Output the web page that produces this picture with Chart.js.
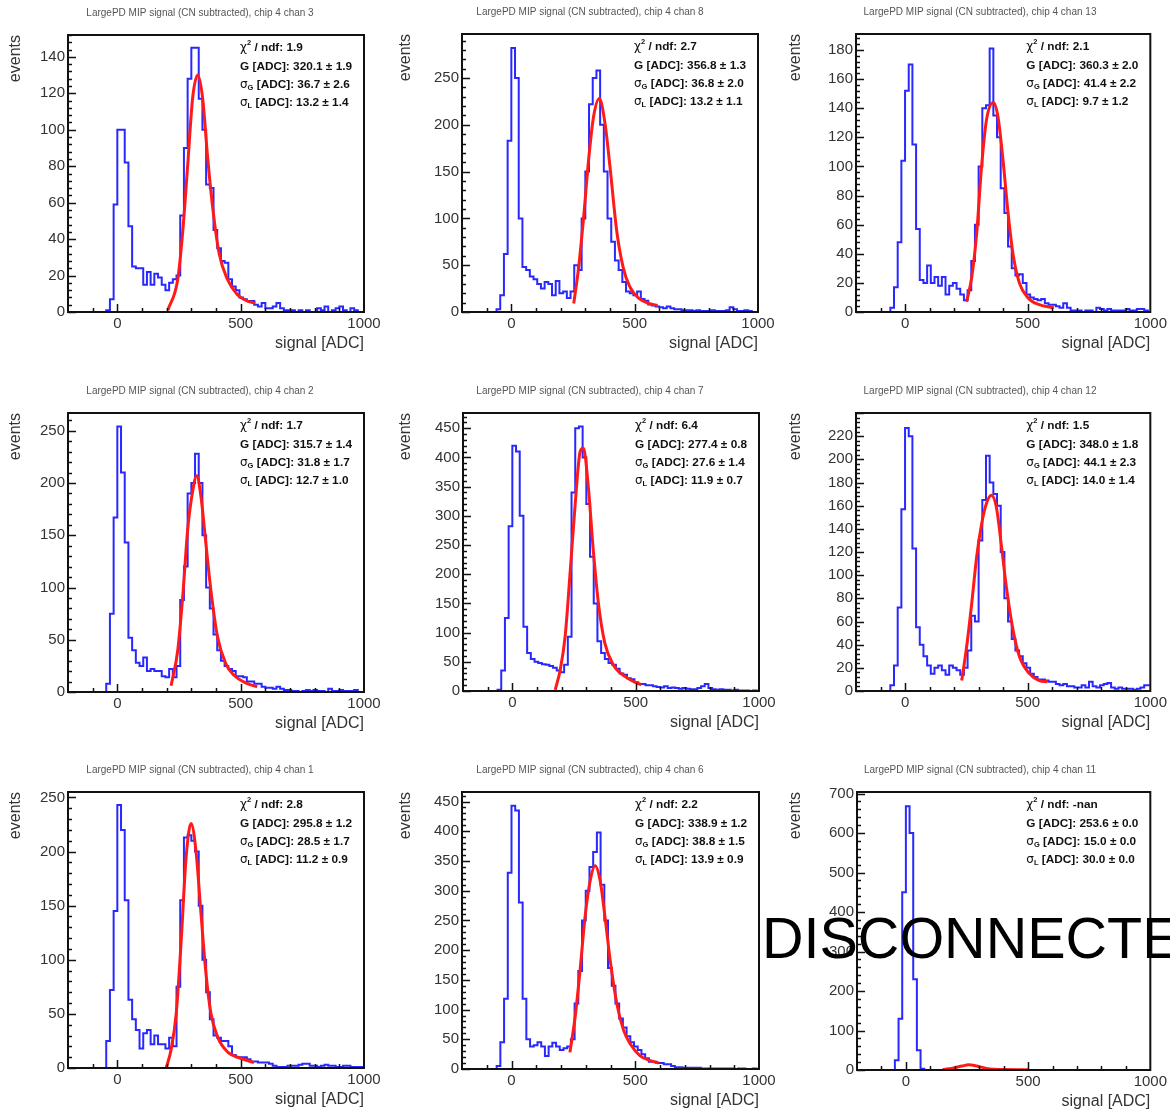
<!DOCTYPE html>
<html>
<head>
<meta charset="utf-8">
<script src="https://cdn.jsdelivr.net/npm/chart.js@4.4.1/dist/chart.umd.min.js"></script>
<style>
  html, body { margin: 0; padding: 0; background: #fff; }
  body { width: 1170px; height: 1109px; position: relative; overflow: hidden; font-family: "Liberation Sans", Arial, sans-serif; }
  .pad { position: absolute; }
  #disc { position: absolute; left: 762px; top: 910px; z-index: 10; font-size: 57.5px; line-height: 57.5px; color: #000; white-space: nowrap; pointer-events: none; }
</style>
</head>
<body>
<div id="disc">DISCONNECTED</div>
<script>
// bin centres, 15 ADC wide
const binCenters = [
  -187.5,-172.5,-157.5,-142.5,-127.5,-112.5,-97.5,-82.5,-67.5,-52.5,
  -37.5,-22.5,-7.5,7.5,22.5,37.5,52.5,67.5,82.5,97.5,
  112.5,127.5,142.5,157.5,172.5,187.5,202.5,217.5,232.5,247.5,
  262.5,277.5,292.5,307.5,322.5,337.5,352.5,367.5,382.5,397.5,
  412.5,427.5,442.5,457.5,472.5,487.5,502.5,517.5,532.5,547.5,
  562.5,577.5,592.5,607.5,622.5,637.5,652.5,667.5,682.5,697.5,
  712.5,727.5,742.5,757.5,772.5,787.5,802.5,817.5,832.5,847.5,
  862.5,877.5,892.5,907.5,922.5,937.5,952.5,967.5,982.5,997.5
];
const xTickLabels = [0, 500, 1000];

// ---- chan 3
const countsCh3 = [
  0,0,0,0,0,0,0,0,0,0,
  1,7,59,100,100,82,47,25,24,24,
  15,22,15,21,19,15,12,16,18,20,
  53,90,128,145,145,117,100,70,68,45,
  35,28,27,18,14,12,8,7,6,6,
  4,3,5,2,2,3,5,2,1,1,
  1,0,1,0,1,0,0,2,1,3,
  0,1,2,3,1,0,2,1,0,0
];
const fitXCh3 = [205,245,265,285,305,326,346,366,386,413,446,487,527,560];
const fitYCh3 = [1,18,44,80,117,130,117,85,58,32,18,9.5,6,5];
const yTicksCh3 = [0,20,40,60,80,100,120,140];
const statsCh3 = ['1.9', '320.1 \u00b1 1.9', '36.7 \u00b1 2.6', '13.2 \u00b1 1.4'];

// ---- chan 8
const countsCh8 = [
  0,0,0,0,0,0,0,0,0,3,
  18,62,183,282,250,100,48,45,38,35,
  30,25,32,30,18,33,20,22,15,22,
  50,45,100,150,222,250,258,200,150,100,
  75,55,45,32,22,20,18,22,14,12,
  8,7,6,5,4,6,4,3,3,2,
  2,2,1,2,1,1,1,2,1,1,
  1,2,5,3,1,1,2,1,0,0
];
const fitXCh8 = [253,273,293,313,333,357,380,400,427,453,480,520,560,593];
const fitYCh8 = [9,48,101,162,208,228,201,155,87,48,27,14,9,7];
const yTicksCh8 = [0,50,100,150,200,250];
const statsCh8 = ['2.7', '356.8 \u00b1 1.3', '36.8 \u00b1 2.0', '13.2 \u00b1 1.1'];

// ---- chan 13
const countsCh13 = [
  0,0,0,0,0,0,0,0,0,3,
  17,48,104,152,170,115,57,22,20,32,
  20,24,18,24,12,18,20,16,12,8,
  15,35,60,100,140,142,181,135,120,85,
  68,45,30,25,26,20,12,10,9,8,
  9,6,5,5,4,3,6,3,1,1,
  1,0,1,1,0,3,2,1,2,1,
  1,1,1,2,1,1,2,2,1,0
];
const fitXCh13 = [251,272,292,312,332,360,379,399,420,440,466,500,547,607];
const fitYCh13 = [7,24,54,100,132,144,134,105,68,40,20,10,5,3];
const yTicksCh13 = [0,20,40,60,80,100,120,140,160,180];
const statsCh13 = ['2.1', '360.3 \u00b1 2.0', '41.4 \u00b1 2.2', '9.7 \u00b1 1.2'];

// ---- chan 2
const countsCh2 = [
  0,0,0,0,0,0,0,0,0,0,
  8,75,167,254,210,143,52,40,28,25,
  33,20,22,20,20,15,14,22,14,25,
  88,120,190,200,228,200,150,100,80,55,
  40,30,25,22,20,15,15,14,10,10,
  8,8,5,4,4,3,5,3,2,2,
  1,1,0,1,2,1,2,1,1,0,
  3,1,1,2,1,1,1,2,0,0
];
const fitXCh2 = [218,245,265,285,306,322,339,359,379,406,440,473,527,567];
const fitYCh2 = [6,40,91,155,193,207,187,142,98,53,27,16,8,5];
const yTicksCh2 = [0,50,100,150,200,250];
const statsCh2 = ['1.7', '315.7 \u00b1 1.4', '31.8 \u00b1 1.7', '12.7 \u00b1 1.0'];

// ---- chan 7
const countsCh7 = [
  0,0,0,0,0,0,0,0,0,2,
  35,125,282,420,410,300,110,65,55,50,
  48,46,45,43,40,35,32,45,93,340,
  450,453,400,320,230,150,85,65,55,48,
  45,38,30,28,22,20,15,12,12,10,
  10,8,7,6,8,5,6,5,4,5,
  4,3,3,5,8,12,5,3,2,3,
  2,2,1,2,1,1,1,0,1,0
];
const fitXCh7 = [174,194,214,235,255,275,288,308,328,349,375,409,456,509,523];
const fitYCh7 = [2,36,93,207,321,410,416,350,242,150,82,45,25,13,11];
const yTicksCh7 = [0,50,100,150,200,250,300,350,400,450];
const statsCh7 = ['6.4', '277.4 \u00b1 0.8', '27.6 \u00b1 1.4', '11.9 \u00b1 0.7'];

// ---- chan 12
const countsCh12 = [
  0,0,0,0,0,0,0,0,0,5,
  22,72,157,227,220,123,55,40,30,22,
  15,20,22,18,14,22,20,18,14,20,
  35,65,60,130,165,203,180,170,160,120,
  80,60,45,35,30,24,20,15,12,10,
  10,9,8,8,6,5,6,4,4,3,
  3,5,3,8,4,3,5,6,7,3,
  2,3,2,2,2,1,2,3,5,5
];
const fitXCh12 = [231,251,272,292,312,332,352,372,392,413,440,466,507,547,581];
const fitYCh12 = [9,38,76,116,144,162,169,159,127,90,53,30,15,9,8];
const yTicksCh12 = [0,20,40,60,80,100,120,140,160,180,200,220];
const statsCh12 = ['1.5', '348.0 \u00b1 1.8', '44.1 \u00b1 2.3', '14.0 \u00b1 1.4'];

// ---- chan 1
const countsCh1 = [
  0,0,0,0,0,0,0,0,0,0,
  25,72,145,243,220,155,63,45,35,18,
  32,35,22,30,22,22,18,28,20,75,
  155,213,215,210,200,150,100,70,45,30,
  28,25,25,20,12,10,10,10,8,6,
  6,5,5,5,4,2,1,1,1,2,
  2,2,3,4,4,2,2,1,2,3,
  2,2,1,1,2,2,1,1,1,1
];
const fitXCh1 = [198,218,239,259,279,299,319,339,359,379,406,446,500,554];
const fitYCh1 = [0,17,51,118,195,226,200,143,88,51,29,15,9,5];
const yTicksCh1 = [0,50,100,150,200,250];
const statsCh1 = ['2.8', '295.8 \u00b1 1.2', '28.5 \u00b1 1.7', '11.2 \u00b1 0.9'];

// ---- chan 6
const countsCh6 = [
  0,0,0,0,0,0,0,0,0,5,
  45,118,330,443,435,280,118,50,38,40,
  45,38,22,38,44,38,32,35,38,50,
  110,165,250,300,340,365,398,310,250,170,
  140,110,85,70,55,45,38,32,25,18,
  12,12,10,10,8,8,5,3,3,2,
  2,2,2,2,1,1,1,1,1,1,
  1,1,1,0,1,1,0,0,1,0
];
const fitXCh6 = [236,257,277,297,318,338,358,378,399,426,453,480,520,561,595];
const fitYCh6 = [28,87,166,255,317,342,317,255,182,109,65,42,22,14,10];
const yTicksCh6 = [0,50,100,150,200,250,300,350,400,450];
const statsCh6 = ['2.2', '338.9 \u00b1 1.2', '38.8 \u00b1 1.5', '13.9 \u00b1 0.9'];

// ---- chan 11 (disconnected)
const countsCh11 = [
  0,0,0,0,0,0,0,0,0,0,
  25,130,450,668,600,230,50,3,0,0,
  0,0,0,0,0,0,0,0,0,0,
  0,0,0,0,0,0,0,0,0,0,
  0,0,0,0,0,0,0,0,0,0,
  0,0,0,0,0,0,0,0,0,0,
  0,0,0,0,0,0,0,0,0,0,
  0,0,0,0,0,0,0,0,0,0
];
const fitXCh11 = [150,200,230,256,290,330,400,500];
const fitYCh11 = [0.5,6,10,13,10,4,1,0.5];
const yTicksCh11 = [0,100,200,300,400,500,600,700];
const statsCh11 = ['-nan', '253.6 \u00b1 0.0', '15.0 \u00b1 0.0', '30.0 \u00b1 0.0'];

// panel table (chan, data, y range) -- positions below
const panels = [
  { ch: 3,  counts: countsCh3,  fitX: fitXCh3,  fitY: fitYCh3,  yMax: 152, yTicks: yTicksCh3,  stats: statsCh3 },
  { ch: 8,  counts: countsCh8,  fitX: fitXCh8,  fitY: fitYCh8,  yMax: 297, yTicks: yTicksCh8,  stats: statsCh8 },
  { ch: 13, counts: countsCh13, fitX: fitXCh13, fitY: fitYCh13, yMax: 191, yTicks: yTicksCh13, stats: statsCh13 },
  { ch: 2,  counts: countsCh2,  fitX: fitXCh2,  fitY: fitYCh2,  yMax: 267, yTicks: yTicksCh2,  stats: statsCh2 },
  { ch: 7,  counts: countsCh7,  fitX: fitXCh7,  fitY: fitYCh7,  yMax: 476, yTicks: yTicksCh7,  stats: statsCh7 },
  { ch: 12, counts: countsCh12, fitX: fitXCh12, fitY: fitYCh12, yMax: 240, yTicks: yTicksCh12, stats: statsCh12 },
  { ch: 1,  counts: countsCh1,  fitX: fitXCh1,  fitY: fitYCh1,  yMax: 255, yTicks: yTicksCh1,  stats: statsCh1 },
  { ch: 6,  counts: countsCh6,  fitX: fitXCh6,  fitY: fitYCh6,  yMax: 466, yTicks: yTicksCh6,  stats: statsCh6 },
  { ch: 11, counts: countsCh11, fitX: fitXCh11, fitY: fitYCh11, yMax: 704, yTicks: yTicksCh11, stats: statsCh11 }
];

// layout: pad origins and frame boxes [left, top, right, bottom] in page pixels
const padW = 390, padH = 400;
const origins = [[0,0],[390,0],[780,0],[0,370],[390,370],[780,370],[0,740],[390,740],[780,740]];
const frames = [
  [68,35,364,312], [462,34,758,312], [856,34,1153,312],
  [68,413,364,692], [463,413,759,691], [856,413,1152,691],
  [68,792,364,1068], [462,792,759,1069], [857,792,1153,1070]
];
const X_AXIS_H = 45;
const TXT = '#333';
const FONT = '"Liberation Sans", Arial, sans-serif';

// frame box, inside ticks, title and fit-result box, ROOT style
const rootPad = {
  id: 'rootPad',
  afterDatasetsDraw(chart, args, opts) {
    const ctx = chart.ctx;
    const { left, right, top, bottom } = chart.chartArea;
    const xs = chart.scales.x, ys = chart.scales.y;
    ctx.save();
    ctx.strokeStyle = '#111';
    ctx.lineWidth = 1.5;
    ctx.beginPath();
    // x ticks every 100, long at labelled ones
    for (let v = -100; v < 1000; v += 100) {
      const px = Math.round(xs.getPixelForValue(v)) + 0.5;
      const len = v % 500 === 0 ? 8 : 4;
      ctx.moveTo(px, bottom); ctx.lineTo(px, bottom - len);
    }
    // y ticks, 5 minor per major step
    const step = opts.yTicks[1] - opts.yTicks[0];
    for (let v = 0; v <= ys.max; v += step / 5) {
      const py = Math.round(ys.getPixelForValue(v)) + 0.5;
      const major = Math.abs(v / step - Math.round(v / step)) < 1e-6;
      const len = major ? 8 : 4;
      ctx.moveTo(left, py); ctx.lineTo(left + len, py);
    }
    ctx.stroke();
    ctx.lineWidth = 2;
    ctx.strokeRect(left, top, right - left, bottom - top);

    // pad title
    ctx.fillStyle = '#555';
    ctx.font = '10px ' + FONT;
    ctx.textAlign = 'center';
    ctx.textBaseline = 'middle';
    ctx.fillText('LargePD MIP signal (CN subtracted), chip 4 chan ' + opts.ch, 200, top - 22);

    // fit results
    ctx.fillStyle = '#111';
    ctx.textAlign = 'left';
    const bold = 'bold 11.8px ' + FONT;
    const small = 'bold 7.5px ' + FONT;
    const sym = '12px "DejaVu Sans", "Liberation Sans", sans-serif';
    const lines = [
      [{ t: '\u03c7', f: sym }, { t: '2', f: small, dy: -5 }, { t: ' / ndf: ' + opts.stats[0], f: bold }],
      [{ t: 'G [ADC]: ' + opts.stats[1], f: bold }],
      [{ t: '\u03c3', f: sym }, { t: 'G', f: small, dy: 3 }, { t: ' [ADC]: ' + opts.stats[2], f: bold }],
      [{ t: '\u03c3', f: sym }, { t: 'L', f: small, dy: 3 }, { t: ' [ADC]: ' + opts.stats[3], f: bold }]
    ];
    const lineY = [13, 32, 50, 68];
    lines.forEach((parts, i) => {
      let x = right - 124;
      parts.forEach(p => {
        ctx.font = p.f;
        ctx.fillText(p.t, x, top + lineY[i] + (p.dy || 0));
        x += ctx.measureText(p.t).width;
      });
    });
    ctx.restore();
  }
};

function makePad(p, idx) {
  const [ox, oy] = origins[idx];
  const [fL, fT, fR, fB] = frames[idx];
  const box = document.createElement('div');
  box.className = 'pad';
  box.style.left = ox + 'px';
  box.style.top = oy + 'px';
  box.style.width = padW + 'px';
  box.style.height = padH + 'px';
  const canvas = document.createElement('canvas');
  canvas.width = padW;
  canvas.height = padH;
  box.appendChild(canvas);
  document.body.appendChild(box);

  const histPts = binCenters.map((x, i) => ({ x: x, y: p.counts[i] }));
  const fitPts = p.fitX.map((x, i) => ({ x: x, y: p.fitY[i] }));

  return new Chart(canvas.getContext('2d'), {
    type: 'line',
    data: {
      datasets: [
        {
          label: 'fit',
          data: fitPts,
          borderColor: '#ff1a1a',
          borderWidth: 3,
          pointRadius: 0,
          fill: false,
          cubicInterpolationMode: 'monotone',
          order: 1
        },
        {
          label: 'hist',
          data: histPts,
          borderColor: '#2828ff',
          borderWidth: 2,
          pointRadius: 0,
          fill: false,
          stepped: 'middle',
          order: 2
        }
      ]
    },
    options: {
      responsive: false,
      animation: false,
      events: [],
      layout: {
        padding: {
          left: 0,
          top: fT - oy,
          right: ox + padW - fR,
          bottom: padH - (fB - oy) - X_AXIS_H
        }
      },
      plugins: {
        legend: { display: false },
        tooltip: { enabled: false },
        rootPad: { ch: p.ch, stats: p.stats, yTicks: p.yTicks }
      },
      scales: {
        x: {
          type: 'linear',
          min: -200,
          max: 1000,
          afterBuildTicks: s => { s.ticks = xTickLabels.map(v => ({ value: v })); },
          afterFit: s => { s.height = X_AXIS_H; },
          grid: { display: false, drawTicks: false },
          border: { display: false },
          ticks: {
            autoSkip: false,
            maxRotation: 0,
            padding: 3,
            color: TXT,
            font: { family: FONT, size: 15 },
            callback: v => String(v)
          },
          title: {
            display: true,
            text: 'signal [ADC]',
            align: 'end',
            color: TXT,
            font: { family: FONT, size: 16 },
            padding: { top: 0, bottom: 4 }
          }
        },
        y: {
          type: 'linear',
          min: 0,
          max: p.yMax,
          afterBuildTicks: s => { s.ticks = p.yTicks.map(v => ({ value: v })); },
          afterFit: s => { s.width = fL - ox; },
          grid: { display: false, drawTicks: false },
          border: { display: false },
          ticks: {
            autoSkip: false,
            padding: 3,
            color: TXT,
            font: { family: FONT, size: 15 },
            callback: v => String(v)
          },
          title: {
            display: true,
            text: 'events',
            align: 'end',
            color: TXT,
            font: { family: FONT, size: 16 },
            padding: { top: 6, bottom: 0 }
          }
        }
      }
    },
    plugins: [rootPad]
  });
}

panels.forEach((p, i) => makePad(p, i));
</script>
</body>
</html>
